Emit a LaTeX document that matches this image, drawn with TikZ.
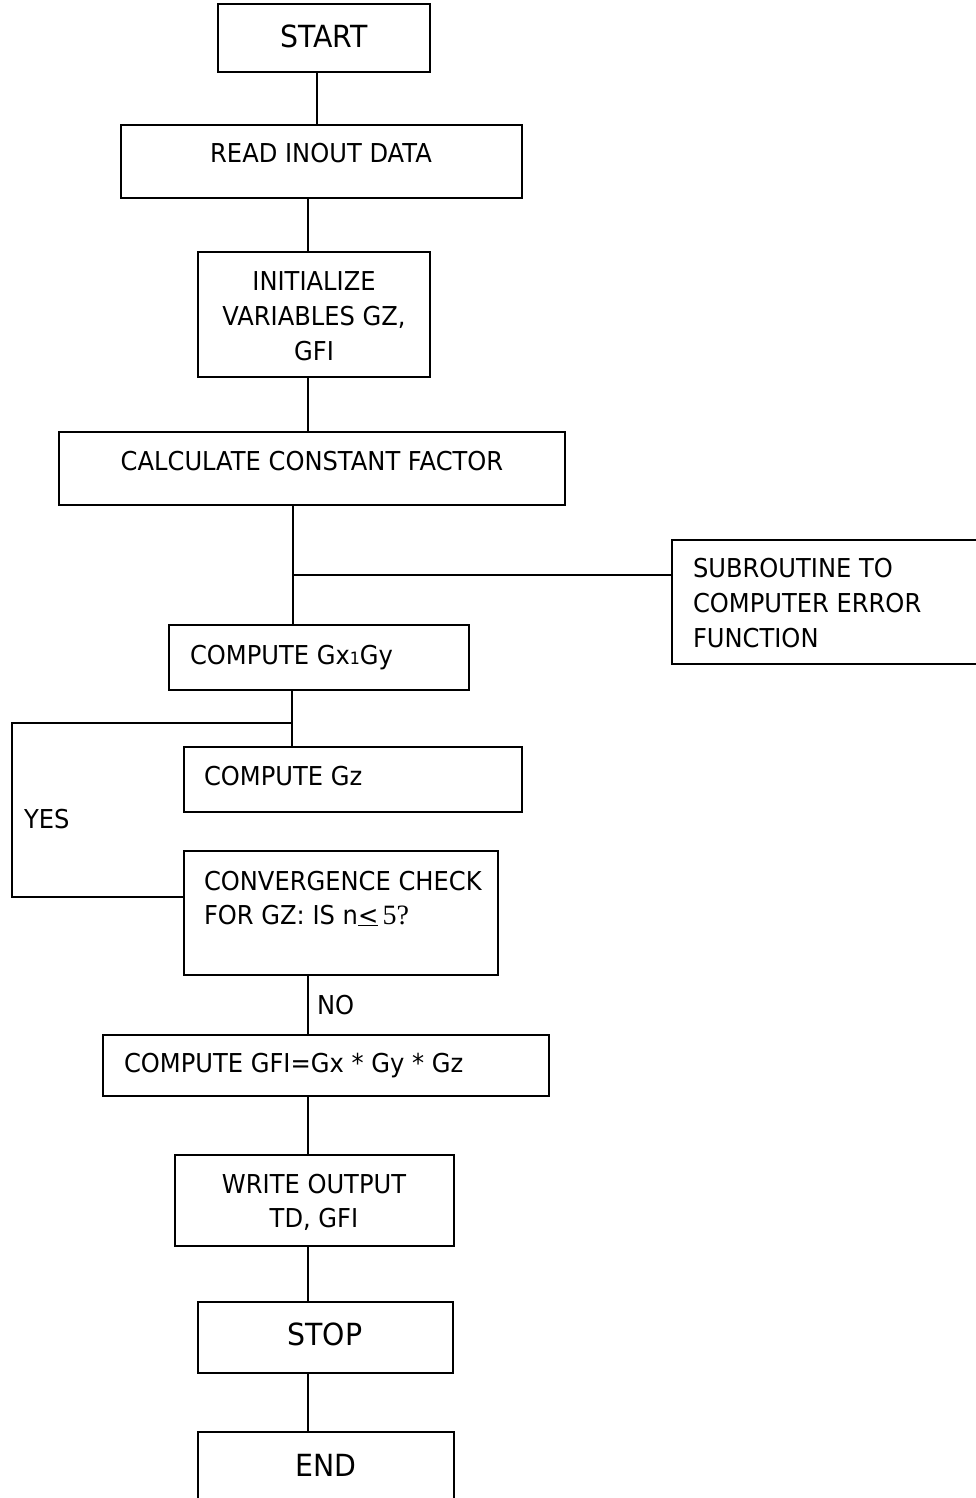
\documentclass[tikz,border=0pt]{standalone}
\usepackage{fontspec}
\setmainfont{DejaVu Sans}[FakeStretch=0.93]
\newfontfamily\serifa{Liberation Serif}
\usetikzlibrary{fit}
\tikzset{
  box/.style={draw, line width=1.8pt, inner sep=0pt, outer sep=0pt, rectangle},
  conn/.style={line width=1.8pt},
  txt/.style={inner sep=0pt, outer sep=0pt, font=\fontsize{26}{35}\selectfont},
  bigtxt/.style={inner sep=0pt, outer sep=0pt, font=\fontsize{30.5}{35}\selectfont},
}
\begin{document}
\begin{tikzpicture}[x=1pt,y=-1pt]
\clip (0,0) rectangle (976,1498);
\fill[white] (0,0) rectangle (976,1498);
% boxes
\node[box, fit={(218,4) (430,72)}] (start) {};
\node[box, fit={(121,125) (522,198)}] (read) {};
\node[box, fit={(198,252) (430,377)}] (init) {};
\node[box, fit={(59,432) (565,505)}] (calc) {};
\node[box, fit={(672,540) (990,664)}] (sub) {};
\node[box, fit={(169,625) (469,690)}] (gxgy) {};
\node[box, fit={(184,747) (522,812)}] (gz) {};
\node[box, fit={(184,851) (498,975)}] (conv) {};
\node[box, fit={(103,1035) (549,1096)}] (gfi) {};
\node[box, fit={(175,1155) (454,1246)}] (write) {};
\node[box, fit={(198,1302) (453,1373)}] (stop) {};
\node[box, fit={(198,1432) (454,1520)}] (end) {};
% texts
\node[bigtxt, anchor=base] (tstart) at (324,48) {START};
\node[txt, anchor=base] (tread) at (321,163) {READ INOUT DATA};
\node[txt, anchor=base] (tinit1) at (314,290) {INITIALIZE};
\node[txt, anchor=base] (tinit2) at (314,325) {VARIABLES GZ,};
\node[txt, anchor=base] (tinit3) at (314,360) {GFI};
\node[txt, anchor=base] (tcalc) at (312,470) {CALCULATE CONSTANT FACTOR};
\node[txt, anchor=base west] (tsub1) at (693,577) {SUBROUTINE TO};
\node[txt, anchor=base west] (tsub2) at (693,612) {COMPUTER ERROR};
\node[txt, anchor=base west] (tsub3) at (693,647) {FUNCTION};
\node[txt, anchor=base west] (tgxgy) at (190,664) {COMPUTE Gx{\fontsize{17}{17}\selectfont 1}Gy};
\node[txt, anchor=base west] (tgz) at (204,785) {COMPUTE Gz};
\node[txt, anchor=base west] (tyes) at (24,828) {YES};
\node[txt, anchor=base west] (tconv1) at (204,890) {CONVERGENCE CHECK};
\node[txt, anchor=base west] (tconv2) at (204,924) {FOR GZ: IS n\underline{<}\,{\serifa\fontsize{28}{35}\selectfont 5?}};
\node[txt, anchor=base west] (tno) at (317,1014) {NO};
\node[txt, anchor=base west] (tgfi) at (124,1072) {COMPUTE GFI=Gx * Gy * Gz};
\node[txt, anchor=base] (twrite1) at (314,1193) {WRITE OUTPUT};
\node[txt, anchor=base] (twrite2) at (314,1227) {TD, GFI};
\node[bigtxt, anchor=base] (tstop) at (325,1345) {STOP};
\node[bigtxt, anchor=base] (tend) at (326,1476) {END};
% junction coordinates
\coordinate (j1) at (293,575);
\coordinate (j2) at (292,723);
\coordinate (l1) at (12,723);
\coordinate (l2) at (12,897);
% connectors
\draw[conn] (317,0 |- start.south) -- (317,0 |- read.north);
\draw[conn] (308,0 |- read.south) -- (308,0 |- init.north);
\draw[conn] (308,0 |- init.south) -- (308,0 |- calc.north);
\draw[conn] (293,0 |- calc.south) -- (293,0 |- gxgy.north);
\draw[conn] (j1) -- (j1 -| sub.west);
\draw[conn] (292,0 |- gxgy.south) -- (292,0 |- gz.north);
\draw[conn] (j2) -- (l1) -- (l2) -- (l2 -| conv.west);
\draw[conn] (308,0 |- conv.south) -- (308,0 |- gfi.north);
\draw[conn] (308,0 |- gfi.south) -- (308,0 |- write.north);
\draw[conn] (308,0 |- write.south) -- (308,0 |- stop.north);
\draw[conn] (308,0 |- stop.south) -- (308,0 |- end.north);
\end{tikzpicture}
\end{document}
